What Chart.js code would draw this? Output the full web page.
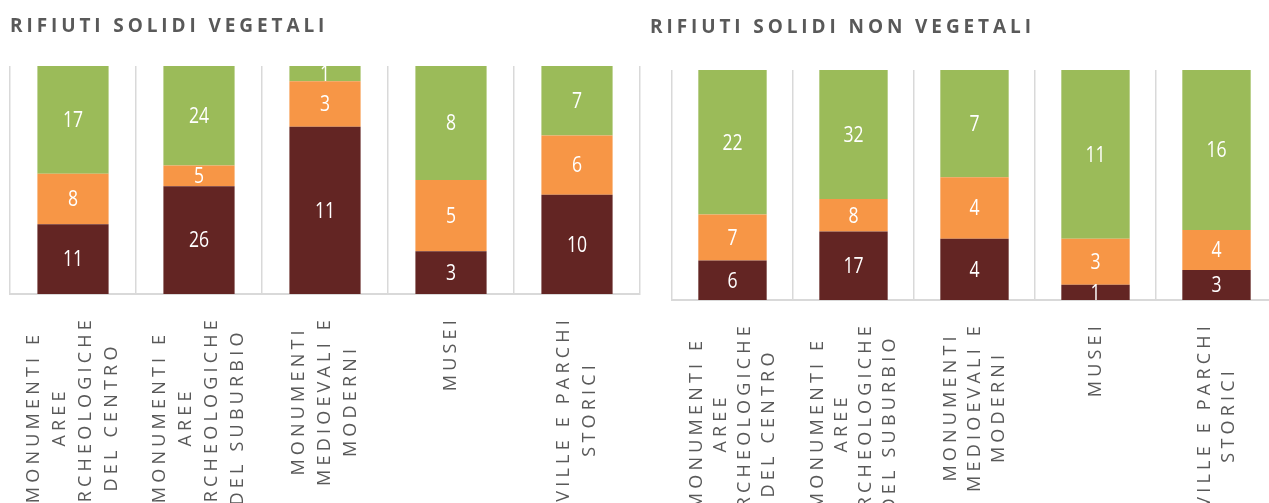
<!DOCTYPE html>
<html>
<head>
<meta charset="utf-8">
<script src="https://cdn.jsdelivr.net/npm/chart.js@4/dist/chart.umd.min.js"></script>
<style>
  html, body { margin: 0; padding: 0; background: #fff; overflow: hidden; width: 1269px; height: 503px; }
  .panel { position: absolute; top: 0; height: 503px; }
  #left { left: 0; width: 645px; }
  #right { left: 645px; width: 640px; }
  .title {
    position: absolute;
    font-family: "Open Sans", sans-serif;
    font-weight: bold;
    font-size: 19px;
    line-height: 26px;
    letter-spacing: 3.9px;
    color: #595959;
    white-space: nowrap;
  }
</style>
</head>
<body>
<div class="panel" id="left"><canvas id="chartL"></canvas></div>
<div class="panel" id="right"><canvas id="chartR"></canvas></div>
<div class="title" style="left:10px; top:12px;">RIFIUTI SOLIDI VEGETALI</div>
<div class="title" style="left:650px; top:13px;">RIFIUTI SOLIDI NON VEGETALI</div>

<script>
// ==========================================================================
// Data
// ==========================================================================
var categories = [
  ['MONUMENTI E', 'AREE', 'ARCHEOLOGICHE', 'DEL CENTRO'],
  ['MONUMENTI E', 'AREE', 'ARCHEOLOGICHE', 'DEL SUBURBIO'],
  ['MONUMENTI', 'MEDIOEVALI E', 'MODERNI'],
  ['MUSEI'],
  ['VILLE E PARCHI', 'STORICI']
];
var seriesNames = ['Serie 1', 'Serie 2', 'Serie 3'];

// rifiuti solidi vegetali
var vegBrown  = [11, 26, 11, 3, 10];
var vegOrange = [8, 5, 3, 5, 6];
var vegGreen  = [17, 24, 1, 8, 7];

// rifiuti solidi non vegetali
var nonBrown  = [6, 17, 4, 1, 3];
var nonOrange = [7, 8, 4, 3, 4];
var nonGreen  = [22, 32, 7, 11, 16];

var colors = ['#632523', '#F79646', '#9BBB59'];


// ==========================================================================
// Helpers
// ==========================================================================
function toPercent(list, i, all) {
  var total = all.reduce(function(s, a) { return s + a[i]; }, 0);
  return list[i] / total * 100;
}

function buildDatasets(groups) {
  return groups.map(function(values, d) {
    return {
      label: seriesNames[d],
      data: values.map(function(v, i) { return toPercent(values, i, groups); }),
      counts: values,
      backgroundColor: colors[d],
      borderWidth: 0,
      barPercentage: 0.565,
      categoryPercentage: 1
    };
  });
}

// value labels inside segments + multi line category labels under the axis
var labelPlugin = {
  id: 'barLabels',
  afterDatasetsDraw: function(chart) {
    var ctx = chart.ctx;
    ctx.save();
    ctx.fillStyle = '#ffffff';
    ctx.font = '22px "Open Sans"';
    ctx.textAlign = 'center';
    ctx.textBaseline = 'middle';
    chart.data.datasets.forEach(function(ds, d) {
      chart.getDatasetMeta(d).data.forEach(function(bar, i) {
        ctx.save();
        ctx.translate(bar.x, (bar.y + bar.base) / 2 + 1);
        ctx.scale(0.8, 1);
        ctx.fillText(String(ds.counts[i]), 0, 0);
        ctx.restore();
      });
    });
    ctx.restore();
  },
  afterDraw: function(chart, args, opts) {
    var ctx = chart.ctx,
        xs = chart.scales.x,
        top = chart.chartArea.bottom + opts.gap;
    ctx.save();
    ctx.font = '18px "Open Sans"';
    ctx.letterSpacing = opts.spacing + 'px';
    ctx.fillStyle = '#595959';
    ctx.textAlign = 'center';
    ctx.textBaseline = 'middle';
    categories.forEach(function(lines, i) {
      var x = xs.getPixelForValue(i);
      var w = Math.max.apply(null, lines.map(function(s) { return ctx.measureText(s).width; }));
      ctx.save();
      ctx.translate(x, top);
      ctx.rotate(-Math.PI / 2);
      lines.forEach(function(s, j) {
        ctx.fillText(s, -w / 2, (j - (lines.length - 1) / 2) * opts.lineHeight);
      });
      ctx.restore();
    });
    ctx.restore();
  }
};

function makeChart(id, groups, padding, labelOpts) {
  return new Chart(document.getElementById(id), {
    type: 'bar',
    data: {
      labels: categories.map(function(c) { return c.join(' '); }),
      datasets: buildDatasets(groups)
    },
    options: {
      responsive: true,
      maintainAspectRatio: false,
      animation: false,
      layout: { padding: padding },
      plugins: {
        legend: { display: false },
        tooltip: { enabled: false },
        barLabels: labelOpts
      },
      scales: {
        x: {
          stacked: true,
          offset: true,
          ticks: { display: false },
          grid: { display: true, offset: true, color: '#D9D9D9', lineWidth: 1.5, drawTicks: false },
          border: { display: true, color: '#D9D9D9', width: 2 }
        },
        y: {
          stacked: true,
          display: false,
          min: 0,
          max: 100
        }
      }
    },
    plugins: [labelPlugin]
  });
}


// ==========================================================================
// Charts
// ==========================================================================
makeChart('chartL', [vegBrown, vegOrange, vegGreen],
  { left: 10, right: 5, top: 66, bottom: 209 },
  { gap: 22, lineHeight: 26, spacing: 4.2 });

makeChart('chartR', [nonBrown, nonOrange, nonGreen],
  { left: 27, right: 8, top: 70, bottom: 203 },
  { gap: 22, lineHeight: 24, spacing: 4.2 });
</script>
</body>
</html>
